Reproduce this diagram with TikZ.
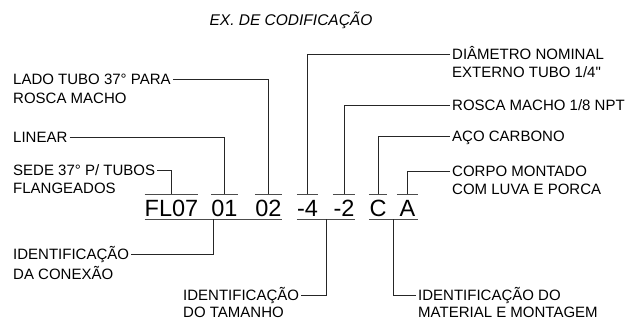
\documentclass[tikz,border=0pt]{standalone}
\usepackage{fontspec}
\setmainfont{Liberation Sans}[Ligatures=TeXOff]
\usetikzlibrary{calc}
\begin{document}
\begin{tikzpicture}[x=1pt,y=-1pt,
  lbl/.style={font=\fontsize{15}{18}\selectfont, inner xsep=2pt, inner ysep=0pt, text height=10.6pt, text depth=0pt},
  lblw/.style={lbl, anchor=west},
  code/.style={font=\fontsize{23.5}{23.5}\selectfont, inner xsep=0pt, inner ysep=0pt, text height=22pt, text depth=3pt, anchor=north},
  bar/.style={draw=black!70, line width=0.75pt},
  lead/.style={draw=black!85, line width=0.75pt}]
\useasboundingbox (0,0) rectangle (630,320);

% title
\node[font=\fontsize{15.5}{18}\selectfont\itshape, inner sep=0pt] (title) at (291,20) {EX. DE CODIFICAÇÃO};

% code segments
\node[code, minimum width=53pt] (fl)  at (171.5,194) {FL07};
\node[code, minimum width=25pt] (n01) at (224.5,194) {01};
\node[code, minimum width=27pt] (n02) at (268.5,194) {02};
\node[code, minimum width=21pt] (m4)  at (307.5,194) {-4};
\node[code, minimum width=22pt] (m2)  at (344,194) {-2};
\node[code, minimum width=18pt] (cc)  at (378,194) {C};
\node[code, minimum width=21pt] (aa)  at (407.5,194) {A};

% top bars
\foreach \n in {fl,n01,n02,m4,m2,cc,aa}
  \draw[bar] (\n.north west) -- (\n.north east);
% bottom bars
\draw[bar] (fl.south west) -- (n02.south east);
\draw[bar] (m4.south west) -- (m2.south east);
\draw[bar] (cc.south west) -- (aa.south east);
\coordinate (b1) at ($(fl.south west)!0.5!(n02.south east)$);
\coordinate (b2) at ($(m4.south west)!0.5!(m2.south east)$);
\coordinate (b3) at ($(cc.south west)!0.5!(aa.south east)$);

% left labels
\node[lblw] (lado)  at (11,79) {LADO TUBO 37° PARA};
\node[lblw] (lado2) at (11,98) {ROSCA MACHO};
\node[lblw] (lin)   at (11,137) {LINEAR};
\node[lblw] (sede)  at (11,170) {SEDE 37° P/ TUBOS};
\node[lblw] (sede2) at (11,188) {FLANGEADOS};

% right labels
\node[lblw] (dia)   at (450,54) {DIÂMETRO NOMINAL};
\node[lblw] (dia2)  at (450,72) {EXTERNO TUBO 1/4"};
\node[lblw] (rm)    at (450,105) {ROSCA MACHO 1/8 NPT};
\node[lblw] (aco)   at (450,136) {AÇO CARBONO};
\node[lblw] (corpo) at (450,171) {CORPO MONTADO};
\node[lblw] (corpo2) at (450,189) {COM LUVA E PORCA};

% bottom labels
\node[lblw] (idc)  at (11,254) {IDENTIFICAÇÃO};
\node[lblw] (idc2) at (11,274) {DA CONEXÃO};
\node[lblw] (idt)  at (181,295) {IDENTIFICAÇÃO};
\node[lblw] (idt2) at (181,312.5) {DO TAMANHO};
\node[lblw] (idm)  at (416,295) {IDENTIFICAÇÃO DO};
\node[lblw] (idm2) at (416,312.5) {MATERIAL E MONTAGEM};

% leaders
\draw[lead] (lado.east) -| (n02.north);
\draw[lead] (lin.east) -| (n01.north);
\draw[lead] (sede.east) -| (fl.north);
\draw[lead] (dia.west) -| (m4.north);
\draw[lead] (rm.west) -| (m2.north);
\draw[lead] (aco.west) -| (cc.north);
\draw[lead] (corpo.west) -| (aa.north);
\draw[lead] (idc.east) -| (b1);
\draw[lead] (idt.east) -| (b2);
\draw[lead] (idm.west) -| (b3);
\end{tikzpicture}
\end{document}
